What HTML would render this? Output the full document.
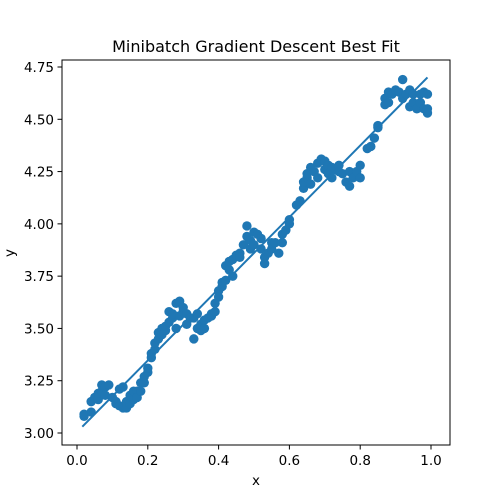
<!DOCTYPE html>
<html><head><meta charset="utf-8"><style>body{margin:0;background:#fff}svg{display:block;font-family:"DejaVu Sans","Liberation Sans",sans-serif}</style></head>
<body>
<svg id="chart" width="500" height="500">
<rect x="0" y="0" width="500" height="500" fill="#fff"/>
<text x="256" y="52" text-anchor="middle" font-size="16">Minibatch Gradient Descent Best Fit</text>
<g id="marks"></g>
<g id="axes"></g>
<rect x="62" y="60" width="388" height="385" fill="none" stroke="#000" stroke-width="1"/>
<text x="256" y="485" text-anchor="middle" font-size="13.5">x</text>
<text x="14" y="253" text-anchor="middle" font-size="13.5" transform="rotate(-90 14 253)">y</text>
</svg>
<script>
const xs = [0.02,0.02,0.04,0.04,0.05,0.06,0.06,0.07,0.07,0.08,0.09,0.08,
0.10,0.11,0.11,0.12,0.12,0.13,0.13,0.14,0.14,0.15,0.15,0.16,0.16,0.17,0.17,0.18,0.18,0.19,0.19,0.20,0.20,
0.21,0.21,0.22,0.22,0.23,0.23,0.24,0.24,0.25,0.25,0.26,0.26,0.27,0.27,0.28,0.28,0.29,0.29,0.30,0.30,
0.31,0.31,0.32,0.33,0.33,0.34,0.34,0.35,0.35,0.36,0.36,0.37,0.38,0.38,0.39,0.39,0.40,0.40,
0.41,0.41,0.42,0.42,0.43,0.43,0.44,0.44,0.45,0.46,0.46,0.47,0.48,0.48,0.49,0.49,0.50,0.50,
0.51,0.52,0.52,0.53,0.53,0.54,0.55,0.55,0.56,0.57,0.58,0.58,0.59,0.60,0.60,
0.62,0.63,0.64,0.64,0.65,0.65,0.66,0.66,0.67,0.68,0.68,0.69,0.70,0.70,
0.71,0.71,0.72,0.72,0.73,0.74,0.74,0.75,0.76,0.77,0.77,0.78,0.79,0.80,0.80,
0.82,0.83,0.84,0.85,0.85,0.87,0.87,0.88,0.88,0.89,0.90,0.91,0.92,0.92,0.93,0.94,0.94,0.95,0.95,0.96,0.97,0.97,0.98,0.98,0.99,0.99,0.99];
const ys = [3.08,3.09,3.10,3.15,3.17,3.16,3.19,3.20,3.23,3.22,3.23,3.18,
3.17,3.15,3.14,3.21,3.13,3.12,3.22,3.12,3.15,3.18,3.14,3.20,3.16,3.20,3.17,3.20,3.24,3.24,3.27,3.29,3.31,
3.36,3.38,3.40,3.43,3.45,3.48,3.47,3.50,3.49,3.51,3.53,3.58,3.55,3.57,3.62,3.50,3.56,3.63,3.58,3.60,
3.57,3.52,3.55,3.55,3.45,3.50,3.57,3.49,3.52,3.50,3.54,3.55,3.56,3.57,3.58,3.62,3.65,3.68,
3.70,3.72,3.73,3.80,3.78,3.82,3.75,3.83,3.85,3.86,3.84,3.90,3.94,3.99,3.88,3.92,3.96,3.90,
3.95,3.93,3.88,3.84,3.81,3.86,3.91,3.88,3.91,3.86,3.91,3.95,3.97,4.00,4.02,
4.09,4.11,4.17,4.20,4.22,4.24,4.19,4.27,4.25,4.22,4.29,4.31,4.26,4.30,
4.28,4.24,4.27,4.22,4.26,4.28,4.25,4.24,4.20,4.18,4.25,4.22,4.25,4.22,4.28,
4.36,4.37,4.41,4.46,4.47,4.57,4.60,4.63,4.58,4.62,4.64,4.63,4.69,4.60,4.62,4.64,4.56,4.58,4.62,4.55,4.62,4.58,4.63,4.55,4.62,4.53,4.55];
const fitX = [0.015,0.99];
const fitY = [3.03,4.70];
const xTicks = [0.0,0.2,0.4,0.6,0.8,1.0];
const xTickLabels = ["0.0","0.2","0.4","0.6","0.8","1.0"];
const yTicks = [3.00,3.25,3.50,3.75,4.00,4.25,4.50,4.75];
const yTickLabels = ["3.00","3.25","3.50","3.75","4.00","4.25","4.50","4.75"];

const NS="http://www.w3.org/2000/svg";
const sx = v => 77 + v*354;
const sy = v => 433 - (v-3)*209.14;
const marks=document.getElementById('marks'), axes=document.getElementById('axes');
function mk(t,a,p){const e=document.createElementNS(NS,t);for(const k in a)e.setAttribute(k,a[k]);p.appendChild(e);return e;}
for(let i=0;i<xs.length;i++){
  const c=mk('circle',{cx:sx(xs[i]),cy:sy(ys[i]),r:4.7,fill:'#1f77b4'},marks);
  
  
}
const ln=mk('line',{x1:sx(fitX[0]),y1:sy(fitY[0]),x2:sx(fitX[1]),y2:sy(fitY[1]),stroke:'#1f77b4','stroke-width':2},marks);


xTicks.forEach((v,i)=>{
  const x=sx(v);
  const t=mk('line',{x1:x,y1:445,x2:x,y2:449.5,stroke:'#000'},axes);
  
  
  const l=mk('text',{x:x,y:465,'text-anchor':'middle','font-size':13.5},axes);
  l.textContent=xTickLabels[i];
  
  
});
yTicks.forEach((v,i)=>{
  const y=sy(v);
  const t=mk('line',{x1:57.5,y1:y,x2:62,y2:y,stroke:'#000'},axes);
  
  
  const l=mk('text',{x:54,y:y+5,'text-anchor':'end','font-size':13.5},axes);
  l.textContent=yTickLabels[i];
  
  
});
</script>
</body></html>
